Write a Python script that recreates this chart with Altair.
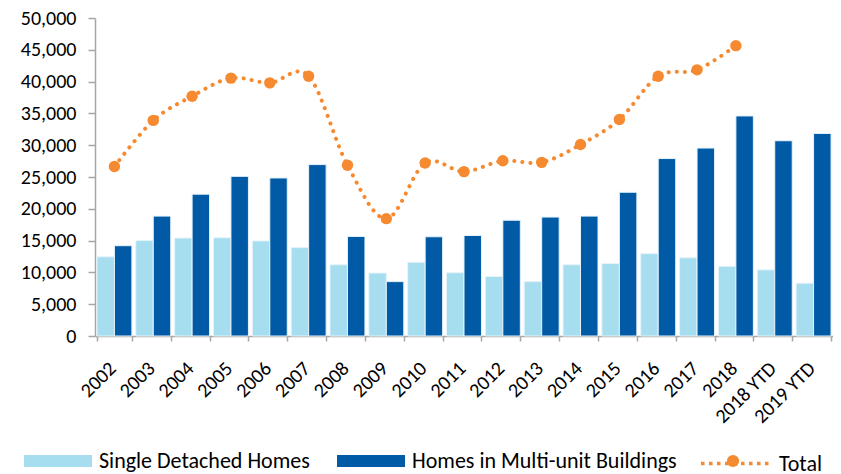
import altair as alt
import pandas as pd

# ---------------------------------------------------------
# DATA
# ---------------------------------------------------------
years = ["2002", "2003", "2004", "2005", "2006", "2007", "2008", "2009", "2010",
         "2011", "2012", "2013", "2014", "2015", "2016", "2017", "2018",
         "2018 YTD", "2019 YTD"]
single_detached = [12450, 15000, 15400, 15450, 14950, 13900, 11200, 9900, 11600,
                   9950, 9350, 8550, 11200, 11400, 12950, 12300, 10950,
                   10400, 8300]
multi_unit = [14200, 18850, 22300, 25100, 24850, 26950, 15650, 8550, 15600,
              15800, 18200, 18700, 18850, 22600, 27900, 29550, 34600,
              30700, 31850]
total_years = years[:17]
total = [26650, 33900, 37700, 40550, 39800, 40850, 26850, 18450, 27200,
         25850, 27550, 27300, 30100, 34050, 40850, 41850, 45650]

series_names = ["Single Detached Homes", "Homes in Multi-unit Buildings"]
LIGHT = "#A6DDEF"
DARK = "#005AA6"
ORANGE = "#F58A31"
FONT = "Carlito, Lato, sans-serif"

bars_df = pd.DataFrame({
    "year": years * 2,
    "series": [series_names[0]] * len(years) + [series_names[1]] * len(years),
    "value": single_detached + multi_unit,
})
# "marker" is a second label column so the circle legend stays apart from the line legend
total_df = pd.DataFrame({"year": total_years, "value": total,
                         "series": "Total", "marker": "Total marker"})

# ---------------------------------------------------------
# SHARED ENCODINGS
# ---------------------------------------------------------
x_enc = alt.X(
    "year:N", sort=years, title=None,
    scale=alt.Scale(paddingInner=0.1, paddingOuter=0.05),
    axis=alt.Axis(labelAngle=-45, labelAlign="right", labelBaseline="top",
                  labelPadding=17, labelOffset=-9, labelFontSize=20,
                  tickBand="extent", tickSize=5, labelColor="#000"),
)
y_enc = alt.Y(
    "value:Q", title=None,
    scale=alt.Scale(domain=[0, 50000], nice=False),
    axis=alt.Axis(values=list(range(0, 50001, 5000)), format=",.0f", grid=False,
                  labelFontSize=20, tickSize=7, labelPadding=12, labelColor="#000"),
)

# ---------------------------------------------------------
# BARS
# ---------------------------------------------------------
bar_shape = "M-1,-0.18H1V0.18H-1Z"
bars = alt.Chart(bars_df).mark_bar(stroke="#e6f3fa", strokeWidth=1).encode(
    x=x_enc,
    y=y_enc,
    xOffset=alt.XOffset("series:N", sort=series_names,
                        scale=alt.Scale(paddingInner=0, paddingOuter=0)),
    color=alt.Color(
        "series:N", sort=series_names,
        scale=alt.Scale(domain=series_names, range=[LIGHT, DARK]),
        legend=alt.Legend(orient="none", direction="horizontal", title=None,
                          legendX=-71, legendY=409, symbolType=bar_shape,
                          symbolSize=4624, symbolStrokeWidth=0,
                          labelFontSize=22, labelOffset=7, columnPadding=27,
                          labelLimit=400, padding=0),
    ),
)

# ---------------------------------------------------------
# TOTAL LINE (dotted line legend + circle legend drawn on top of it)
# ---------------------------------------------------------
line = alt.Chart(total_df).mark_line(
    strokeDash=[0.1, 8], strokeCap="round", strokeWidth=4, interpolate="cardinal"
).encode(
    x=x_enc,
    y=y_enc,
    stroke=alt.Stroke(
        "series:N",
        scale=alt.Scale(domain=["Total"], range=[ORANGE]),
        legend=alt.Legend(orient="none", title=None, legendX=604, legendY=409,
                          symbolType="M-1,0H1", symbolSize=4761,
                          symbolStrokeWidth=3.5, symbolDash=[3.5, 4.5],
                          labelFontSize=22, labelOffset=7, padding=0),
    ),
)
points = alt.Chart(total_df).mark_circle(size=130, opacity=1).encode(
    x=x_enc,
    y=y_enc,
    fill=alt.Fill(
        "marker:N",
        scale=alt.Scale(domain=["Total marker"], range=[ORANGE]),
        legend=alt.Legend(orient="none", title=None, legendX=631.5, legendY=436.5,
                          symbolType="circle", symbolSize=150, symbolOpacity=1,
                          symbolStrokeWidth=0, labelExpr="''", labelFontSize=1,
                          padding=0),
    ),
)

chart = (
    alt.layer(bars, line, points)
    .resolve_scale(color="independent")
    .properties(
        width=738, height=318,
        autosize=alt.AutoSizeParams(type="none"),
        padding={"left": 87, "top": 10, "right": 0, "bottom": 146},
    )
    .configure_view(stroke=None)
    .configure_axis(domainColor="#A6A6A6", domainWidth=1.5, tickColor="#A6A6A6",
                    tickWidth=1.5, labelFont=FONT)
    .configure_legend(labelFont=FONT, labelColor="#000")
)

chart.save("out.html", embed_options={"renderer": "svg", "actions": False})
